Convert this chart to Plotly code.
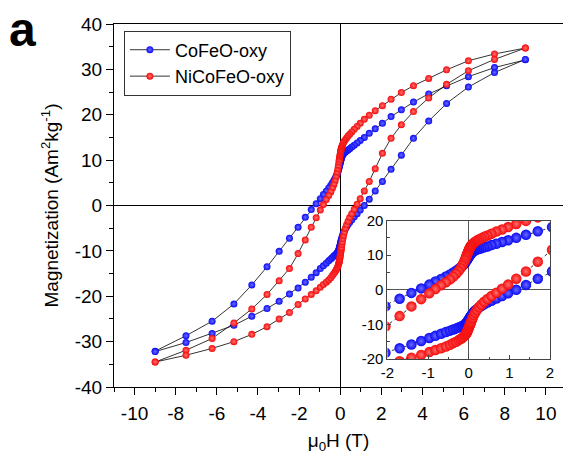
import plotly.graph_objects as go

# Applied field (T), sweep from +9 T down to -9 T
field_down = [9.0, 7.5, 6.23, 5.17, 4.3, 3.56, 2.97, 2.47, 2.05, 1.7, 1.41, 1.17, 0.97,
              0.82, 0.68, 0.56, 0.46, 0.38, 0.31, 0.25, 0.2, 0.16, 0.13, 0.1, 0.08, 0.06,
              0.05, 0.04, 0.03, 0.02, 0.01, 0.0, -0.01, -0.02, -0.03, -0.04, -0.05, -0.06,
              -0.08, -0.1, -0.13, -0.16, -0.2, -0.25, -0.31, -0.38, -0.46, -0.56, -0.68,
              -0.82, -0.97, -1.17, -1.41, -1.7, -2.05, -2.47, -2.97, -3.56, -4.3, -5.17,
              -6.23, -7.5, -9.0]
# Return sweep from -9 T up to +9 T
field_up = [-9.0, -7.5, -6.23, -5.17, -4.3, -3.56, -2.97, -2.47, -2.05, -1.7, -1.41, -1.17,
            -0.97, -0.82, -0.68, -0.56, -0.46, -0.38, -0.31, -0.25, -0.2, -0.16, -0.13, -0.1,
            -0.08, -0.06, -0.05, -0.04, -0.03, -0.02, -0.01, 0.0, 0.01, 0.02, 0.03, 0.04, 0.05,
            0.06, 0.08, 0.1, 0.13, 0.16, 0.2, 0.25, 0.31, 0.38, 0.46, 0.56, 0.68, 0.82, 0.97,
            1.17, 1.41, 1.7, 2.05, 2.47, 2.97, 3.56, 4.3, 5.17, 6.23, 7.5, 9.0]

# CoFeO-oxy magnetization (Am2/kg)
cofeo_down = [32.1, 30.4, 28.4, 26.4, 24.6, 22.8, 21.1, 19.6, 18.1, 16.9, 15.9, 15.0, 14.3,
              13.8, 13.3, 12.9, 12.5, 12.25, 12.0, 11.8, 11.6, 11.4, 11.2, 11.0, 10.8, 10.5,
              10.35, 10.2, 10.0, 9.85, 9.7, 9.5, 9.3, 9.1, 8.9, 8.7, 8.5, 8.3,
              7.95, 7.6, 7.2, 6.85, 6.45, 6.0, 5.5, 5.0, 4.45, 3.85, 3.15,
              2.4, 1.5, 0.4, -0.9, -2.6, -4.8, -7.2, -10.1, -13.5, -17.5, -21.7,
              -25.5, -28.7, -32.1]
cofeo_up = [-32.2, -30.2, -28.2, -26.4, -24.4, -22.7, -21.1, -19.5, -18.2, -16.9, -15.8, -14.8,
            -13.9, -13.3, -12.7, -12.2, -11.8, -11.45, -11.15, -10.9, -10.7, -10.5, -10.3, -10.1,
            -9.9, -9.65, -9.5, -9.35, -9.15, -9.0, -8.85, -8.65, -8.45, -8.25, -8.05, -7.85, -7.65,
            -7.45, -7.1, -6.75, -6.35, -6.0, -5.6, -5.15, -4.7, -4.2, -3.7, -3.15, -2.5, -1.8, -1.0,
            0.0, 1.4, 3.2, 5.3, 8.0, 11.1, 14.8, 18.6, 22.5, 26.1, 29.3, 32.2]

# NiCoFeO-oxy magnetization (Am2/kg)
nicofeo_down = [34.7, 33.4, 31.9, 29.9, 28.0, 26.4, 24.9, 23.4, 22.0, 20.9, 19.9, 19.0, 18.1,
                17.4, 16.8, 16.2, 15.7, 15.3, 14.9, 14.5, 14.2, 13.9, 13.6, 13.3, 13.0, 12.75,
                12.55, 12.35, 12.1, 11.9, 11.65, 11.4, 11.1, 10.8, 10.5, 10.2, 9.9, 9.6,
                9.0, 8.45, 7.7, 7.0, 6.2, 5.4, 4.6, 3.8, 3.0, 2.2, 1.3,
                0.2, -1.0, -2.7, -4.8, -7.6, -10.6, -13.9, -16.6, -19.6, -22.8, -25.9,
                -29.3, -31.9, -34.5]
nicofeo_up = [-34.5, -33.0, -31.5, -30.0, -28.4, -26.7, -25.0, -23.6, -21.8, -20.6, -19.6, -18.8,
              -18.0, -17.4, -16.9, -16.4, -15.9, -15.4, -15.0, -14.6, -14.2, -13.9, -13.6, -13.2,
              -12.9, -12.6, -12.4, -12.15, -11.9, -11.6, -11.3, -11.0, -10.7, -10.4, -10.1, -9.8, -9.5,
              -9.2, -8.6, -8.05, -7.3, -6.6, -5.85, -5.05, -4.25, -3.45, -2.65, -1.8, -0.85, 0.3, 1.5,
              3.2, 5.3, 8.1, 11.5, 14.8, 17.8, 20.7, 23.7, 26.7, 29.7, 32.2, 34.7]

# Tick positions and labels (plain hyphen minus signs)
main_x_ticks = [-10, -8, -6, -4, -2, 0, 2, 4, 6, 8, 10]
main_y_ticks = [-40, -30, -20, -10, 0, 10, 20, 30, 40]
inset_x_ticks = [-2, -1, 0, 1, 2]
inset_y_ticks = [-20, -10, 0, 10, 20]


def labels(vals):
    return [str(v) for v in vals]


samples = [
    ("CoFeO-oxy", field_down + field_up, cofeo_down + cofeo_up, "#0a0af5", "#6a6aff"),
    ("NiCoFeO-oxy", field_down + field_up, nicofeo_down + nicofeo_up, "#f50a0a", "#ff7070"),
]

FONT = "Liberation Sans, Arial, sans-serif"

fig = go.Figure()

for name, h, m, color, glow in samples:
    fig.add_trace(go.Scatter(
        x=h, y=m, name=name, mode="lines+markers",
        line=dict(color="black", width=0.8),
        marker=dict(size=7, color=color, gradient=dict(type="radial", color=glow)),
        xaxis="x", yaxis="y",
    ))

for name, h, m, color, glow in samples:
    fig.add_trace(go.Scatter(
        x=h, y=m, name=name, mode="lines+markers", showlegend=False,
        line=dict(color="black", width=0.8, dash="dot"),
        marker=dict(size=10.5, color=color, gradient=dict(type="radial", color=glow)),
        xaxis="x2", yaxis="y2",
    ))

axis_font = dict(family=FONT, size=19, color="black")
inset_font = dict(family=FONT, size=15, color="black")

fig.update_layout(
    width=567, height=462,
    margin=dict(l=114, r=0, t=24, b=75),
    paper_bgcolor="white", plot_bgcolor="white",
    font=dict(family=FONT, color="black"),
    showlegend=True,
    legend=dict(
        x=0.022, y=0.982, xanchor="left", yanchor="top",
        bgcolor="white", bordercolor="#333333", borderwidth=1,
        font=dict(family=FONT, size=18, color="black"),
        tracegroupgap=0, itemwidth=40,
    ),
    xaxis=dict(
        domain=[0, 1], range=[-11, 10.83],
        tickmode="array", tickvals=main_x_ticks, ticktext=labels(main_x_ticks),
        ticks="outside", ticklen=7, tickwidth=1, tickcolor="black",
        minor=dict(dtick=1, tick0=-11, ticks="outside", ticklen=4, tickcolor="black", showgrid=False),
        showline=True, linecolor="black", linewidth=1.2, mirror=True,
        showgrid=False, zeroline=True, zerolinecolor="black", zerolinewidth=1.3,
        tickfont=axis_font, ticklabelstandoff=2,
        title=dict(text="μ<sub>0</sub>H (T)", font=dict(family=FONT, size=19), standoff=10),
    ),
    yaxis=dict(
        domain=[0, 1], range=[-40, 40],
        tickmode="array", tickvals=main_y_ticks, ticktext=labels(main_y_ticks),
        ticks="outside", ticklen=7, tickwidth=1, tickcolor="black",
        minor=dict(dtick=5, tick0=-40, ticks="outside", ticklen=4, tickcolor="black", showgrid=False),
        showline=True, linecolor="black", linewidth=1.2, mirror=False,
        showgrid=False, zeroline=True, zerolinecolor="black", zerolinewidth=1.3,
        tickfont=axis_font, ticklabelstandoff=0,
        title=dict(text="Magnetization (Am<sup>2</sup>kg<sup>-1</sup>)",
                   font=dict(family=FONT, size=19), standoff=10),
    ),
    xaxis2=dict(
        domain=[0.609, 0.971], anchor="y2", range=[-2, 2],
        tickmode="array", tickvals=inset_x_ticks, ticktext=labels(inset_x_ticks),
        ticks="inside", ticklen=4, tickcolor="#444444",
        minor=dict(dtick=0.5, tick0=-2, ticks="inside", ticklen=2.5, tickcolor="#444444", showgrid=False),
        showline=True, linecolor="#444444", linewidth=1, mirror=True,
        showgrid=False, zeroline=True, zerolinecolor="#555555", zerolinewidth=1.3,
        tickfont=inset_font,
    ),
    yaxis2=dict(
        domain=[0.077, 0.4586], anchor="x2", range=[-20, 20],
        tickmode="array", tickvals=inset_y_ticks, ticktext=labels(inset_y_ticks),
        ticks="inside", ticklen=4, tickcolor="#444444",
        minor=dict(dtick=5, tick0=-20, ticks="inside", ticklen=2.5, tickcolor="#444444", showgrid=False),
        showline=True, linecolor="#444444", linewidth=1, mirror=True,
        showgrid=False, zeroline=True, zerolinecolor="#555555", zerolinewidth=1.3,
        tickfont=inset_font,
    ),
    annotations=[
        dict(text="<b>a</b>", x=-0.238, y=1.064, xref="paper", yref="paper", showarrow=False,
             font=dict(family=FONT, size=48, color="black"),
             xanchor="left", yanchor="top"),
    ],
)

fig.write_html("out.html")
